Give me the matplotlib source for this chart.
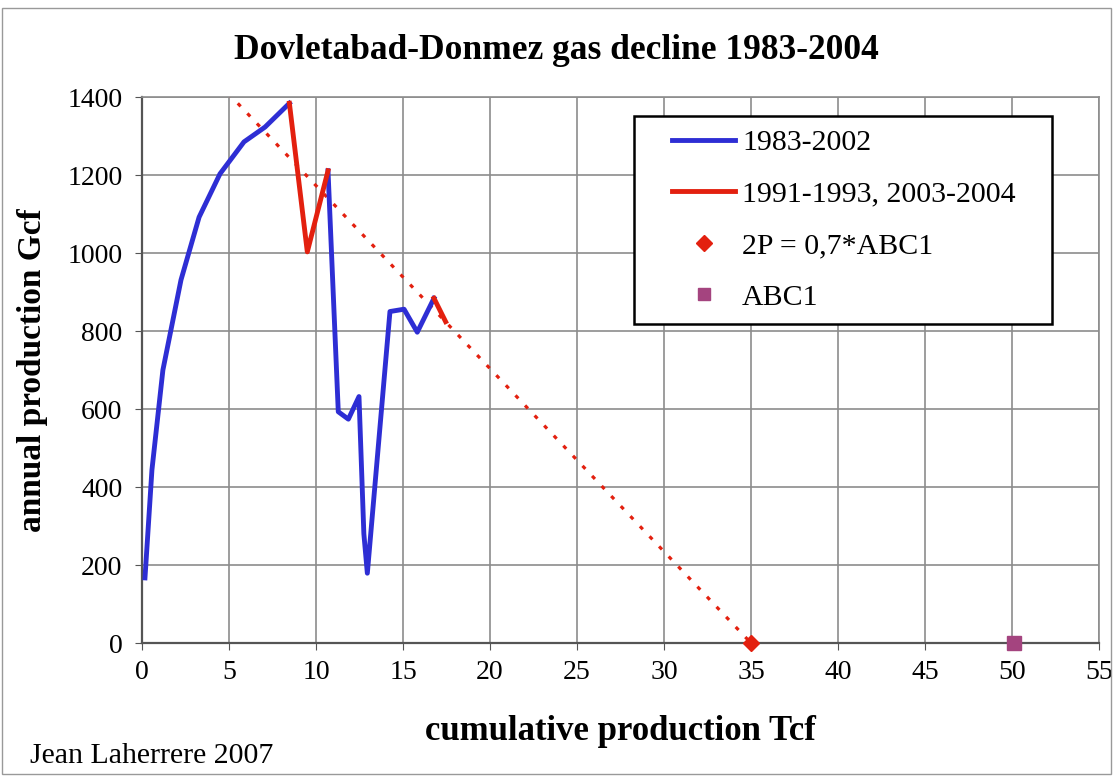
import numpy as np
import matplotlib
matplotlib.use('Agg')
import matplotlib.pyplot as plt
from matplotlib.lines import Line2D
from matplotlib.legend_handler import HandlerLine2D

plt.rcParams['font.family'] = ['Liberation Serif', 'DejaVu Serif']

# Blue series 1983-2002 (drawn in two pieces around the red 1991-1993 part)
blue1_x = [0.17, 0.57, 1.2, 2.24, 3.28, 4.48, 5.86, 7.07, 8.47]
blue1_y = [167, 444, 700, 931, 1092, 1203, 1285, 1323, 1384]
blue2_x = [10.69, 11.28, 11.86, 12.47, 12.75, 12.95, 14.25, 15.06, 15.82, 16.78]
blue2_y = [1211, 593, 574, 632, 280, 179, 850, 856, 797, 884]

# Red series 1991-1993, 2003-2004
red1_x = [8.47, 9.5, 10.69]
red1_y = [1384, 1003, 1211]
red2_x = [16.78, 17.45]
red2_y = [884, 824]

# decline trend to ultimate
trend_x = [0, 35]
trend_y = [1642, 0]

# reserves
p2_x, p2_y = [35], [0]
abc1_x, abc1_y = [50.1], [0]

BLUE = '#2e2ed4'
RED = '#e3200f'
PURPLE = '#a4447f'

fig = plt.figure(figsize=(11.13, 7.8), dpi=100)
ax = fig.add_axes([0.1276, 0.1756, 0.8598, 0.7000])

ax.plot(trend_x, trend_y, color=RED, lw=2.3, linestyle=(0, (1.3, 3.05)), zorder=3)
ax.plot(blue1_x, blue1_y, color=BLUE, lw=3.5, zorder=4)
ax.plot(blue2_x, blue2_y, color=BLUE, lw=3.5, zorder=4)
ax.plot(red1_x, red1_y, color=RED, lw=3.5, zorder=5)
ax.plot(red2_x, red2_y, color=RED, lw=3.5, zorder=5)
ax.plot(p2_x, p2_y, marker='D', ms=8, color=RED, ls='none', zorder=6, clip_on=False)
ax.plot(abc1_x, abc1_y, marker='s', ms=10, color=PURPLE, ls='none', zorder=6, clip_on=False)

ax.set_xlim(0, 55)
ax.set_ylim(0, 1400)
ax.set_xticks(np.arange(0, 56, 5))
ax.set_yticks(np.arange(0, 1401, 200))
ax.grid(True, color='#8c8c8c', lw=1.2)
ax.set_axisbelow(True)
ax.tick_params(labelsize=20, length=5, color='#555555')
ax.tick_params(axis='y', pad=9)
ax.tick_params(axis='x', pad=7)
for s in ['top', 'right']:
    ax.spines[s].set_color('#8c8c8c')
    ax.spines[s].set_linewidth(1.2)
for s in ['left', 'bottom']:
    ax.spines[s].set_color('#555555')
    ax.spines[s].set_linewidth(1.6)

ax.set_xlabel('cumulative production Tcf', fontsize=25, fontweight='bold', labelpad=22)
ax.set_ylabel('annual production Gcf', fontsize=24, fontweight='bold', labelpad=14)
fig.suptitle('Dovletabad-Donmez gas decline 1983-2004', fontsize=25.5, fontweight='bold', y=0.957)
fig.text(0.027, 0.022, 'Jean Laherrere 2007', fontsize=21.5)

handles = [
    Line2D([], [], color=BLUE, lw=3.5),
    Line2D([], [], color=RED, lw=3.5),
    Line2D([], [], color=RED, marker='D', ms=8, ls='none'),
    Line2D([], [], color=PURPLE, marker='s', ms=9, ls='none'),
]
labels = ['1983-2002', '1991-1993, 2003-2004   ', '2P = 0,7*ABC1', 'ABC1']
hmap = {h: HandlerLine2D(xpad=0.84) for h in handles}
leg = ax.legend(handles, labels, loc='upper left', bbox_to_anchor=(0.514, 0.965),
                handler_map=hmap,
                fontsize=21.5, frameon=True, fancybox=False, framealpha=1,
                edgecolor='black', handlelength=2.94, handletextpad=0.23,
                labelspacing=0.82, borderpad=0.45, borderaxespad=0)
leg.get_frame().set_linewidth(1.8)

fig.patches.append(plt.Rectangle((0.002, 0.008), 0.996, 0.982, transform=fig.transFigure,
                                 fill=False, edgecolor='#999999', lw=1))

fig.savefig('out.png', dpi=100)
